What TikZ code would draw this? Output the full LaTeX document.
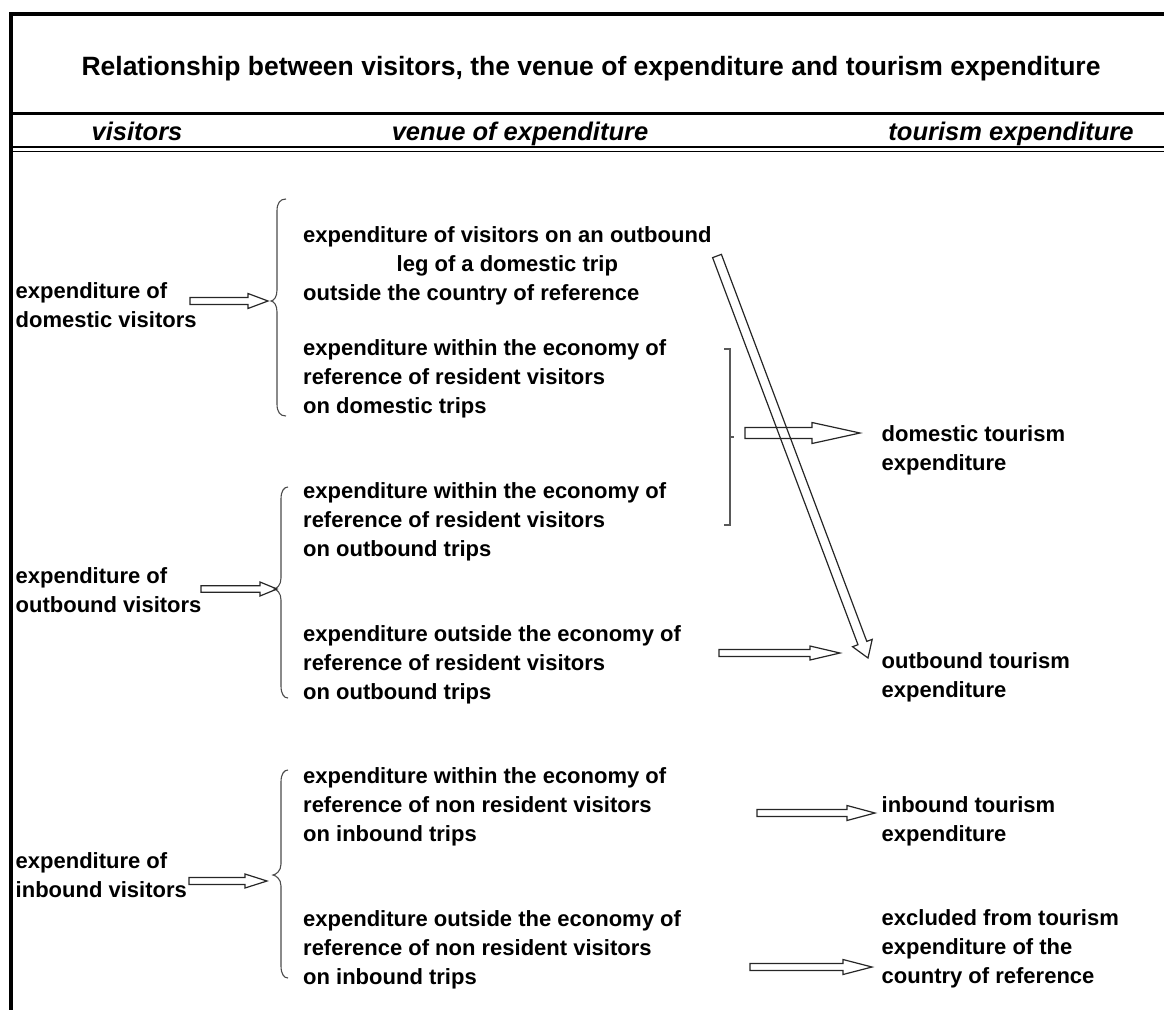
\documentclass[tikz,border=0pt]{standalone}
\usepackage{fontspec}
\setmainfont{Liberation Sans}
\usetikzlibrary{calc}
\newcommand\bodyfont{\fontsize{22}{29}\selectfont\bfseries}
\newcommand\lines[1]{\begin{tabular}[t]{@{}l@{}}#1\end{tabular}}
% start, end, shaft half width, head half width, head length
\newcommand\hollowarrow[5]{%
  \coordinate (hab) at ($(#2)!#5!(#1)$);
  \draw[blockarrow] ($(#1)!#3!90:(#2)$) -- ($(hab)!#3!-90:(#1)$) -- ($(hab)!#4!-90:(#1)$) -- (#2)
    -- ($(hab)!#4!90:(#1)$) -- ($(hab)!#3!90:(#1)$) -- ($(#1)!#3!-90:(#2)$) -- cycle;}
% vertical x, end x, tip x, top y, tip y, bottom y
\newcommand\curlybrace[6]{%
  \draw[braceline] (#2,#4) .. controls (#1+3,#4) and (#1,#4+4) .. (#1,#4+12) -- (#1,#5-11)
    .. controls (#1,#5-4) and (#3+3,#5-0.5) .. (#3,#5)
    .. controls (#3+3,#5+0.5) and (#1,#5+4) .. (#1,#5+11) -- (#1,#6-12)
    .. controls (#1,#6-4) and (#1+3,#6) .. (#2,#6);}
\begin{document}
\begin{tikzpicture}[x=1pt,y=-1pt,
  txt/.style={font=\bodyfont, inner sep=0pt, anchor=base west},
  head/.style={font=\fontsize{25.5}{29}\selectfont\bfseries\itshape, inner sep=0pt, anchor=base},
  blockarrow/.style={draw=black!85, line width=1.2pt, line join=miter},
  braceline/.style={draw=black!70, line width=1.1pt},
  frame/.style={draw=black}]
\useasboundingbox (0,0) rectangle (1164,1010);
% frame
\draw[frame, line width=3.2pt] (1164,14) -- (11,14) -- (11,1010);
\draw[frame, line width=2.5pt] (11,113.5) -- (1164,113.5);
\draw[frame, line width=1.2pt] (11,147) -- (1164,147);
\draw[frame, line width=1.2pt] (11,151.5) -- (1164,151.5);
% title and headers
\node[inner sep=0pt, anchor=base, font=\fontsize{26.5}{30}\selectfont\bfseries] (title) at (591,75)
  {Relationship between visitors, the venue of expenditure and tourism expenditure};
\node[head] (hv) at (137,140) {visitors};
\node[head] (hve) at (520,140) {venue of expenditure};
\node[head] (hte) at (1011,140) {tourism expenditure};
% left column
\node[txt] (lvd) at (15.5,298) {\lines{expenditure of\\domestic visitors}};
\node[txt] (lvo) at (15.5,583) {\lines{expenditure of\\outbound visitors}};
\node[txt] (lvi) at (15.5,868) {\lines{expenditure of\\inbound visitors}};
% middle column
\node[txt] (mA) at (303,242) {\lines{expenditure of visitors on an outbound\\\multicolumn{1}{@{}c@{}}{leg of a domestic trip}\\outside the country of reference}};
\node[txt] (mB) at (303,355) {\lines{expenditure within the economy of\\reference of resident visitors\\on domestic trips}};
\node[txt] (mC) at (303,498) {\lines{expenditure within the economy of\\reference of resident visitors\\on outbound trips}};
\node[txt] (mD) at (303,641) {\lines{expenditure outside the economy of\\reference of resident visitors\\on outbound trips}};
\node[txt] (mE) at (303,783) {\lines{expenditure within the economy of\\reference of non resident visitors\\on inbound trips}};
\node[txt] (mF) at (303,926) {\lines{expenditure outside the economy of\\reference of non resident visitors\\on inbound trips}};
% right column
\node[txt] (rD) at (881.5,441) {\lines{domestic tourism\\expenditure}};
\node[txt] (rO) at (881.5,668) {\lines{outbound tourism\\expenditure}};
\node[txt] (rI) at (881.5,812) {\lines{inbound tourism\\expenditure}};
\node[txt] (rX) at (881.5,925) {\lines{excluded from tourism\\expenditure of the\\country of reference}};
% braces
\curlybrace{277}{286}{271}{199}{301}{416}
\curlybrace{281}{288}{274}{487}{589}{698}
\curlybrace{281}{288}{273}{770}{875}{978}
\coordinate (b1) at (268,301);
\coordinate (b2) at (277,589);
\coordinate (b3) at (267,881);
% right bracket
\draw[braceline, draw=black!65] (724,349) -- (730,349) -- (730,525) -- (724,525);
\draw[braceline, draw=black!65] (730,437) -- (734,437);
% arrow anchors
\coordinate (a1s) at (190,301);
\coordinate (a2s) at (201,589);
\coordinate (a3s) at (189,881);
\coordinate (dS) at (745,433);
\coordinate (dE) at (860,433);
\coordinate (oS) at (719,653);
\coordinate (oE) at (840,653);
\coordinate (iS) at (757,813);
\coordinate (iE) at (875,813);
\coordinate (xS) at (750,967);
\coordinate (xE) at (872,967);
\coordinate (gS) at (717,256);
\coordinate (gE) at (868,658);
% arrows
\hollowarrow{a1s}{b1}{3.5pt}{7.5pt}{20pt}
\hollowarrow{a2s}{b2}{3.2pt}{7pt}{17pt}
\hollowarrow{a3s}{b3}{3.5pt}{7pt}{22pt}
\hollowarrow{dS}{dE}{5.5pt}{10.5pt}{48pt}
\hollowarrow{oS}{oE}{3.5pt}{7pt}{30pt}
\hollowarrow{iS}{iE}{3.5pt}{7.5pt}{28pt}
\hollowarrow{xS}{xE}{3.5pt}{7.5pt}{29pt}
\hollowarrow{gS}{gE}{4.7pt}{10.5pt}{16pt}
\end{tikzpicture}
\end{document}
